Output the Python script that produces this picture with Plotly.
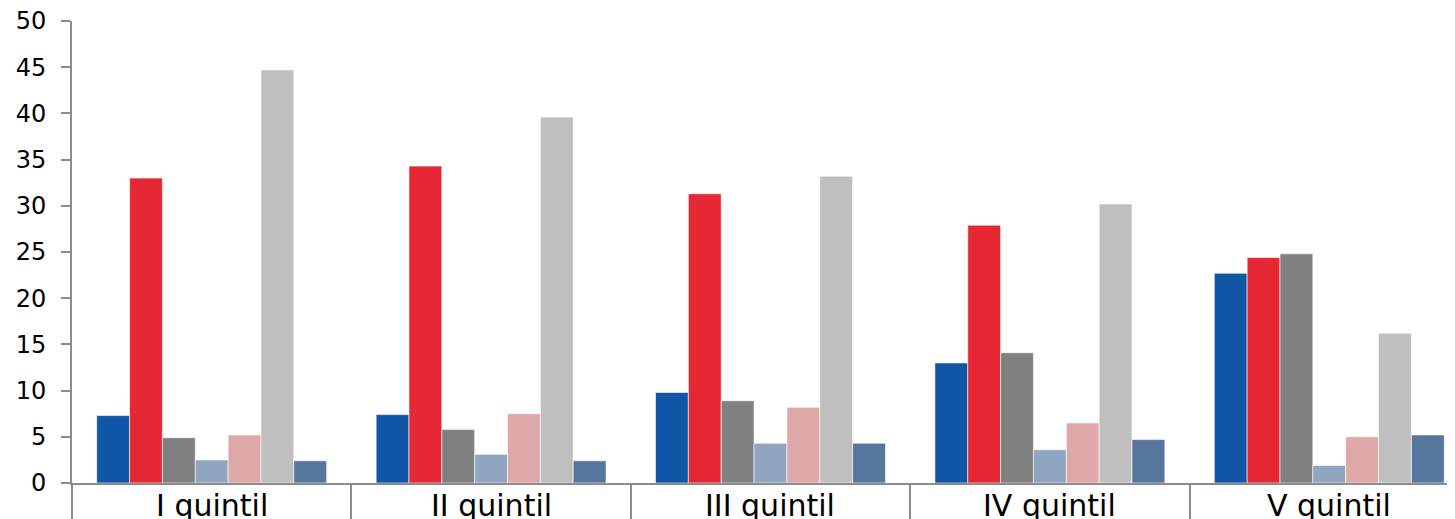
import plotly.graph_objects as go

categories = ["I quintil", "II quintil", "III quintil", "IV quintil", "V quintil"]

series_names = ["Serie 1", "Serie 2", "Serie 3", "Serie 4", "Serie 5", "Serie 6", "Serie 7"]
s1 = [7.3, 7.4, 9.8, 13.0, 22.7]
s2 = [33.0, 34.3, 31.3, 27.9, 24.4]
s3 = [4.9, 5.8, 8.9, 14.1, 24.8]
s4 = [2.5, 3.1, 4.3, 3.6, 1.9]
s5 = [5.2, 7.5, 8.2, 6.5, 5.0]
s6 = [44.7, 39.6, 33.2, 30.2, 16.2]
s7 = [2.4, 2.4, 4.3, 4.7, 5.2]

colors = ["#1057A8", "#E62734", "#808080", "#8FA5C0", "#DFA8A8", "#BFBFBF", "#57769E"]
values = [s1, s2, s3, s4, s5, s6, s7]

y_ticks = [0, 5, 10, 15, 20, 25, 30, 35, 40, 45, 50]

fig = go.Figure()
for name, vals, col in zip(series_names, values, colors):
    fig.add_trace(go.Bar(
        x=categories, y=vals, name=name,
        marker=dict(color=col, line=dict(color="rgba(255,255,255,0.6)", width=1)),
        showlegend=False,
    ))

# category labels placed just under the axis line
for cat in categories:
    fig.add_annotation(
        x=cat, xref="x", y=0, yref="paper", yanchor="top", xanchor="center",
        text=cat, showarrow=False, yshift=-3,
        font=dict(size=30, family="DejaVu Sans", color="black"),
    )

axis_col = "#8c8c8c"
# the page body has an 8px default margin, so the figure is sized/offset accordingly
fig.update_layout(
    width=1447, height=511,
    margin=dict(l=64, r=0, t=13, b=36, autoexpand=False),
    paper_bgcolor="white", plot_bgcolor="white",
    barmode="group", bargap=0.177, bargroupgap=0,
    font=dict(family="DejaVu Sans", color="black"),
    xaxis=dict(
        type="category", range=[-0.5, 4.45], automargin=False,
        showline=True, linecolor=axis_col, linewidth=2,
        ticks="outside", tickson="boundaries", ticklen=40, tickwidth=2, tickcolor=axis_col,
        showticklabels=False,
        showgrid=False, zeroline=False,
    ),
    yaxis=dict(
        range=[0, 50], tickvals=y_ticks, automargin=False,
        showline=True, linecolor=axis_col, linewidth=2,
        ticks="outside", ticklen=9, tickwidth=2, tickcolor=axis_col,
        ticklabelstandoff=10, ticklabeloverflow="allow",
        tickfont=dict(size=24, family="DejaVu Sans", color="black"),
        showgrid=False, zeroline=False,
    ),
)

fig.write_html("out.html")
